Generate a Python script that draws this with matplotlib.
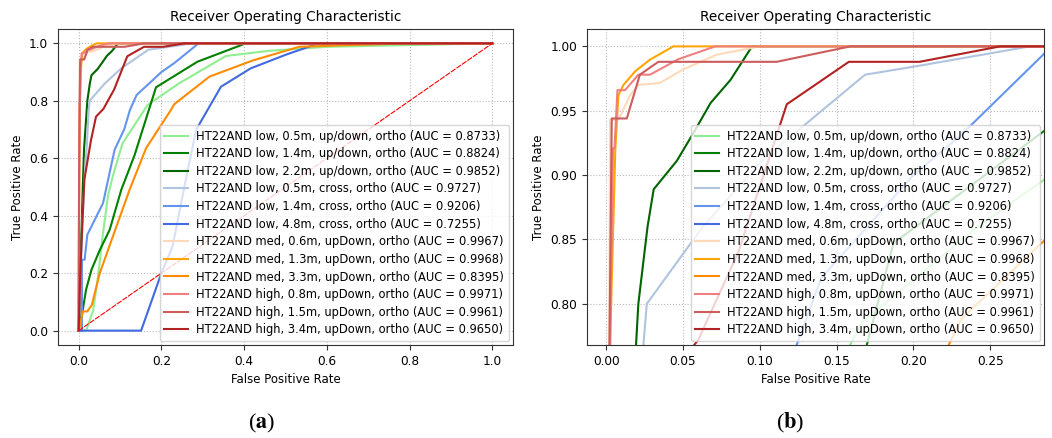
import matplotlib
matplotlib.use('Agg')
import matplotlib.pyplot as plt

# ROC points (fpr, tpr)
fpr_low05_ud = [0, 0.018, 0.035, 0.047, 0.059, 0.071, 0.083, 0.106, 0.167, 0.243, 0.356, 0.46, 0.6, 1.0]
tpr_low05_ud = [0, 0.0, 0.07, 0.19, 0.34, 0.47, 0.54, 0.652, 0.786, 0.861, 0.956, 0.974, 0.988, 1.0]

fpr_low14_ud = [0, 0.005, 0.01, 0.018, 0.031, 0.051, 0.075, 0.103, 0.135, 0.187, 0.287, 0.404, 1.0]
tpr_low14_ud = [0, 0.04, 0.073, 0.143, 0.212, 0.28, 0.351, 0.49, 0.61, 0.847, 0.936, 1.0, 1.0]

fpr_low22_ud = [0, 0.003, 0.006, 0.01, 0.013, 0.0195, 0.021, 0.027, 0.031, 0.046, 0.057, 0.068, 0.081, 0.095, 1.0]
tpr_low22_ud = [0, 0.1, 0.3, 0.5, 0.63, 0.768, 0.80, 0.86, 0.889, 0.911, 0.933, 0.956, 0.974, 1.0, 1.0]

fpr_low05_cr = [0, 0.005, 0.01, 0.015, 0.02, 0.0243, 0.0265, 0.063, 0.103, 0.1686, 0.204, 0.276, 1.0]
tpr_low05_cr = [0, 0.2, 0.4, 0.55, 0.65, 0.768, 0.80, 0.86, 0.913, 0.978, 0.985, 1.0, 1.0]

fpr_low14_cr = [0, 0.008, 0.008, 0.0145, 0.021, 0.059, 0.087, 0.11, 0.124, 0.14, 0.2, 0.23, 0.29, 1.0]
tpr_low14_cr = [0, 0.0, 0.247, 0.247, 0.334, 0.444, 0.63, 0.70, 0.768, 0.82, 0.9, 0.93, 1.0, 1.0]

fpr_low48_cr = [0, 0.151, 0.2, 0.227, 0.259, 0.284, 0.344, 0.416, 0.5, 0.58, 1.0]
tpr_low48_cr = [0, 0.0, 0.2, 0.293, 0.525, 0.699, 0.849, 0.913, 0.96, 1.0, 1.0]

fpr_med06 = [0, 0.001, 0.002, 0.0026, 0.008, 0.0156, 0.021, 0.035, 0.05, 0.072, 0.1, 1.0]
tpr_med06 = [0, 0.5, 0.768, 0.943, 0.943, 0.962, 0.970, 0.9716, 0.982, 0.9935, 1.0, 1.0]

fpr_med13 = [0, 0.001, 0.0026, 0.006, 0.008, 0.0113, 0.0189, 0.0286, 0.0438, 1.0]
tpr_med13 = [0, 0.4, 0.768, 0.92, 0.962, 0.970, 0.9806, 0.9897, 1.0, 1.0]

fpr_med33 = [0, 0.006, 0.0105, 0.021, 0.032, 0.051, 0.123, 0.163, 0.223, 0.231, 0.316, 0.42, 0.533, 0.654, 0.8, 1.0]
tpr_med33 = [0, 0.038, 0.067, 0.067, 0.09, 0.2, 0.49, 0.635, 0.768, 0.788, 0.884, 0.94, 0.988, 0.994, 1.0, 1.0]

fpr_high08 = [0, 0.001, 0.0026, 0.0045, 0.0055, 0.0074, 0.0124, 0.021, 0.0286, 0.047, 0.071, 1.0]
tpr_high08 = [0, 0.5, 0.768, 0.921, 0.921, 0.966, 0.966, 0.978, 0.978, 0.99, 1.0, 1.0]

fpr_high15 = [0, 0.001, 0.0022, 0.0037, 0.0135, 0.022, 0.034, 0.111, 0.159, 1.0]
tpr_high15 = [0, 0.5, 0.768, 0.944, 0.944, 0.978, 0.988, 0.988, 1.0, 1.0]

fpr_high34 = [0, 0.004, 0.008, 0.0137, 0.03, 0.042, 0.06, 0.086, 0.1176, 0.158, 0.204, 0.2565, 1.0]
tpr_high34 = [0, 0.2, 0.34, 0.525, 0.664, 0.745, 0.772, 0.84, 0.955, 0.988, 0.988, 1.0, 1.0]

labels = [
    'HT22AND low, 0.5m, up/down, ortho',
    'HT22AND low, 1.4m, up/down, ortho',
    'HT22AND low, 2.2m, up/down, ortho',
    'HT22AND low, 0.5m, cross, ortho',
    'HT22AND low, 1.4m, cross, ortho',
    'HT22AND low, 4.8m, cross, ortho',
    'HT22AND med, 0.6m, upDown, ortho',
    'HT22AND med, 1.3m, upDown, ortho',
    'HT22AND med, 3.3m, upDown, ortho',
    'HT22AND high, 0.8m, upDown, ortho',
    'HT22AND high, 1.5m, upDown, ortho',
    'HT22AND high, 3.4m, upDown, ortho',
]
aucs = [0.8733, 0.8824, 0.9852, 0.9727, 0.9206, 0.7255,
        0.9967, 0.9968, 0.8395, 0.9971, 0.9961, 0.9650]
colors = ['lightgreen', 'green', 'darkgreen',
          'lightsteelblue', 'cornflowerblue', 'royalblue',
          'peachpuff', 'orange', 'darkorange',
          'lightcoral', 'indianred', 'firebrick']

curves = [(fpr_low05_ud, tpr_low05_ud), (fpr_low14_ud, tpr_low14_ud), (fpr_low22_ud, tpr_low22_ud),
          (fpr_low05_cr, tpr_low05_cr), (fpr_low14_cr, tpr_low14_cr), (fpr_low48_cr, tpr_low48_cr),
          (fpr_med06, tpr_med06), (fpr_med13, tpr_med13), (fpr_med33, tpr_med33),
          (fpr_high08, tpr_high08), (fpr_high15, tpr_high15), (fpr_high34, tpr_high34)]

plt.rcParams['font.family'] = ['DejaVu Sans']
plt.rcParams['mathtext.fontset'] = 'stix'

fig = plt.figure(figsize=(10.52, 4.38), dpi=100)
ax_a = fig.add_axes([0.0551, 0.2123, 0.4325, 0.7215])
ax_b = fig.add_axes([0.558, 0.2123, 0.4344, 0.7215])


def draw_roc(ax):
    for (fpr, tpr), lab, auc, col in zip(curves, labels, aucs, colors):
        ax.plot(fpr, tpr, color=col, lw=1.5, label='%s (AUC = %0.4f)' % (lab, auc))
    ax.plot([0, 1], [0, 1], color='red', lw=0.8, linestyle=(0, (5, 1)))
    ax.set_title('Receiver Operating Characteristic', fontsize=9.8)
    ax.set_xlabel('False Positive Rate', fontsize=8.5)
    ax.set_ylabel('True Positive Rate', fontsize=8.5)
    ax.tick_params(labelsize=8.7, color='#333333')
    ax.grid(True, linestyle=':', color='#bbbbbb', lw=0.8)
    for s in ax.spines.values():
        s.set_color('#333333')
    ax.legend(loc='lower right', fontsize=8.3, framealpha=0.8, borderaxespad=0.35,
              handlelength=2.1, handletextpad=0.7, labelspacing=0.4, borderpad=0.4)


draw_roc(ax_a)
ax_a.set_xlim(-0.05, 1.05)
ax_a.set_ylim(-0.05, 1.05)
ax_a.set_xticks([0, 0.2, 0.4, 0.6, 0.8, 1.0])
ax_a.set_yticks([0, 0.2, 0.4, 0.6, 0.8, 1.0])

draw_roc(ax_b)
ax_b.set_xlim(-0.0124, 0.285)
ax_b.set_ylim(0.768, 1.0135)
ax_b.set_xticks([0, 0.05, 0.10, 0.15, 0.20, 0.25])
ax_b.set_yticks([0.80, 0.85, 0.90, 0.95, 1.00])
ax_b.xaxis.set_major_formatter(matplotlib.ticker.FormatStrFormatter('%.2f'))
ax_b.yaxis.set_major_formatter(matplotlib.ticker.FormatStrFormatter('%.2f'))

fig.text(0.249, 0.022, r'($\mathbf{a}$)', fontsize=16, ha='center', family='Liberation Serif')
fig.text(0.751, 0.022, r'($\mathbf{b}$)', fontsize=16, ha='center', family='Liberation Serif')

fig.savefig('out.png', dpi=100)
